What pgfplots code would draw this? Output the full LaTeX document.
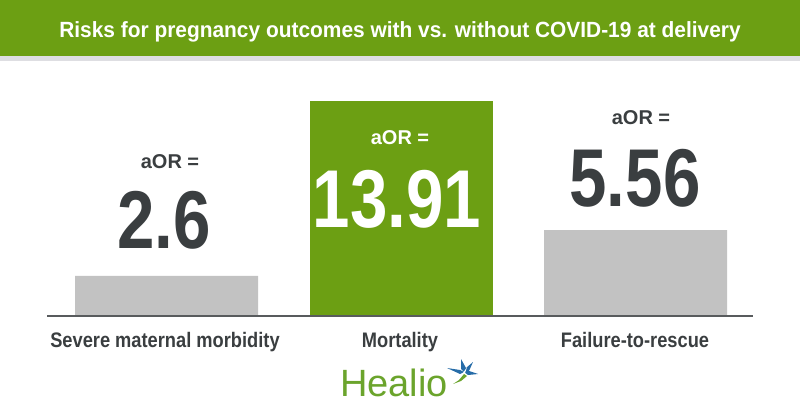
\documentclass[border=0pt]{standalone}
\usepackage{pgfplots}
\pgfplotsset{compat=1.18}
\usepackage{fontspec}
\setmainfont{Liberation Sans}
\newfontfamily\cond{Liberation Sans}[FakeStretch=0.87]
\newfontfamily\titf{Liberation Sans}[FakeStretch=0.95]
\newfontfamily\numf{Liberation Sans}[FakeStretch=0.82]
\definecolor{titlegreen}{RGB}{108,159,19}
\definecolor{bargray}{RGB}{194,194,194}
\definecolor{darktext}{RGB}{58,62,64}
\definecolor{stripgray}{RGB}{222,222,226}
\definecolor{healiogreen}{RGB}{107,164,44}
\definecolor{starblue}{RGB}{38,108,168}
\begin{document}
\begin{tikzpicture}
\begin{axis}[
  at={(0,0)}, anchor=south west,
  scale only axis, width=800bp, height=316bp,
  xmin=-0.710, xmax=2.701, ymin=0, ymax=20.44,
  axis lines=none, ticks=none, clip=false]
\addplot[ybar, bar width=183bp, bar shift=0pt, fill=bargray, draw=none] coordinates {(0,2.6) (2,5.56)};
\addplot[ybar, bar width=183bp, bar shift=0pt, fill=titlegreen, draw=none] coordinates {(1,13.91)};
\end{axis}
\path[use as bounding box] (0,-104bp) rectangle (800bp,316bp);
% title bar
\fill[titlegreen] (0,260bp) rectangle (800bp,316bp);
\fill[stripgray] (0,255bp) rectangle (800bp,260bp);
\node[anchor=base, text=white, inner sep=0pt] at (400bp,278bp) {\fontsize{22bp}{26bp}\titf\bfseries Risks for pregnancy outcomes with vs. without COVID-19 at delivery};
% baseline
\draw[color=darktext!85, line width=1.1bp] (47bp,0) -- (753bp,0);
% value labels
\node[anchor=base, text=darktext, inner sep=0pt] at (170bp,147bp) {\fontsize{20bp}{24bp}\selectfont\bfseries aOR =};
\node[anchor=base, text=darktext, inner sep=0pt] at (164bp,67bp) {\fontsize{82bp}{82bp}\numf\bfseries 2.6};
\node[anchor=base, text=white, inner sep=0pt] at (400bp,171bp) {\fontsize{20bp}{24bp}\selectfont\bfseries aOR =};
\node[anchor=base, text=white, inner sep=0pt] at (397bp,88bp) {\fontsize{82bp}{82bp}\numf\bfseries 13.91};
\node[anchor=base, text=darktext, inner sep=0pt] at (641bp,191bp) {\fontsize{20bp}{24bp}\selectfont\bfseries aOR =};
\node[anchor=base, text=darktext, inner sep=0pt] at (635bp,109bp) {\fontsize{82bp}{82bp}\numf\bfseries 5.56};
% category labels
\node[anchor=base, text=darktext, inner sep=0pt] at (165bp,-31bp) {\fontsize{21bp}{24bp}\cond\bfseries Severe maternal morbidity};
\node[anchor=base, text=darktext, inner sep=0pt] at (400bp,-31bp) {\fontsize{21bp}{24bp}\cond\bfseries Mortality};
\node[anchor=base, text=darktext, inner sep=0pt] at (635bp,-31bp) {\fontsize{21bp}{24bp}\cond\bfseries Failure-to-rescue};
% Healio logo
\node[anchor=base west, text=healiogreen, inner sep=0pt] at (340bp,-80bp) {\fontsize{38bp}{40bp}\selectfont Healio};
\begin{scope}[shift={(464bp,-56bp)}]
\fill[starblue] (0,0) -- (-3bp,3bp) -- (-3bp,13bp) -- (2bp,4bp) -- (9bp,10bp) -- (5bp,1bp) -- (14bp,-2bp) -- (4bp,-3bp) -- cycle;
\fill[starblue] (0,0) -- (-4bp,2bp) -- (-17bp,4bp) -- (-4bp,-2bp) -- cycle;
\fill[white] (-1bp,-1bp) -- (3bp,5bp) -- (1bp,-1bp) -- cycle;
\fill[healiogreen] (0,-2bp) -- (-5bp,-8bp) -- (-11bp,-12bp) -- (-3bp,-9bp) -- (3bp,-4bp) -- cycle;
\end{scope}
\end{tikzpicture}
\end{document}
